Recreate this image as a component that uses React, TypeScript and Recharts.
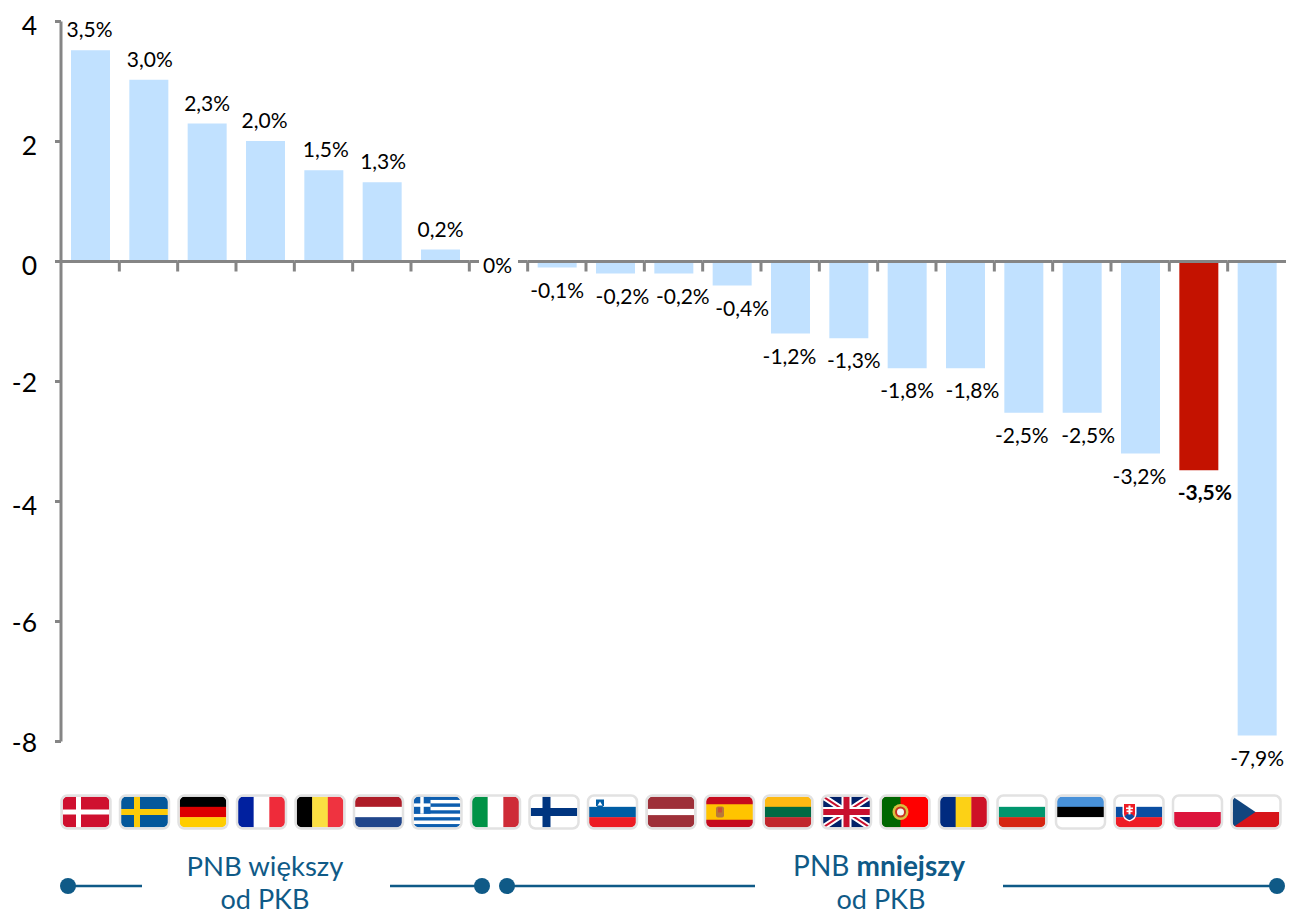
import React from "react";
import { BarChart, Bar, XAxis, YAxis, Cell, LabelList } from "recharts";

const countries = ["DK","SE","DE","FR","BE","NL","GR","IT","FI","SI","LV","ES","LT","GB","PT","RO","BG","EE","SK","PL","CZ"];
const values = [3.52,3.03,2.3,2.01,1.52,1.32,0.2,0,-0.1,-0.2,-0.2,-0.4,-1.2,-1.28,-1.78,-1.78,-2.52,-2.52,-3.2,-3.48,-7.9];
const labels = ["3,5%","3,0%","2,3%","2,0%","1,5%","1,3%","0,2%","0%","-0,1%","-0,2%","-0,2%","-0,4%","-1,2%","-1,3%","-1,8%","-1,8%","-2,5%","-2,5%","-3,2%","-3,5%","-7,9%"];
const yTicks = [4,2,0,-2,-4,-6,-8];
const data = countries.map((c, i) => ({ c, v: values[i], l: labels[i] }));

const FONT = "Lato, 'Open Sans', sans-serif";
const AXIS = "#858585";
const BLUE = "#0f5a87";
const BAR = "#c1e1ff";
const HIGHLIGHT = "#c41200";
const W = 47, H = 31;
const PXU = 60;
const LEFT = 61, RIGHT = 3;
const STEP = (1289 - LEFT - RIGHT) / countries.length;
const LABEL_SHIFT = [-1,1,0,-1,2,1,0,0,0,7,9,10,-1,5,0,7,-2,6,-1,6,0];
const Y_LABEL_SHIFT: Record<number, number> = { [-2]: -3, [-6]: -3, [-8]: -3 };

const h = (cols: string[]) => cols.map((f, i) => <rect key={i} x={0} y={(H * i) / cols.length} width={W} height={H / cols.length + 0.3} fill={f} />);
const v = (cols: string[]) => cols.map((f, i) => <rect key={i} x={(W * i) / cols.length} y={0} width={W / cols.length + 0.3} height={H} fill={f} />);
const nordic = (bg: string, cross: string, t: number) => (
  <>
    <rect width={W} height={H} fill={bg} />
    <rect x={16 - t / 2} width={t} height={H} fill={cross} />
    <rect y={H / 2 - t / 2} width={W} height={t} fill={cross} />
  </>
);

const flagArt: Record<string, React.ReactNode> = {
  DK: nordic("#cf102f", "#ffffff", 5),
  SE: nordic("#04589b", "#fdcb08", 6),
  DE: h(["#000000", "#dd0000", "#ffcd00"]),
  FR: v(["#00209f", "#ffffff", "#ef2b3a"]),
  BE: v(["#000000", "#fbdf42", "#ef3340"]),
  NL: h(["#ae1c28", "#ffffff", "#21468b"]),
  GR: (
    <>
      {[0,1,2,3,4,5,6,7,8].map((i) => <rect key={i} y={(i * H) / 9} width={W} height={H / 9 + 0.2} fill={i % 2 ? "#fff" : "#0d5eaf"} />)}
      <rect width={17} height={(5 * H) / 9} fill="#0d5eaf" />
      <rect x={6.8} width={3.4} height={(5 * H) / 9} fill="#fff" />
      <rect y={6.9} width={17} height={3.4} fill="#fff" />
    </>
  ),
  IT: v(["#009246", "#ffffff", "#ce2b37"]),
  FI: nordic("#ffffff", "#003580", 8),
  SI: (
    <>
      {h(["#ffffff", "#005da4", "#ed1c24"])}
      <path d="M7 3h8v6q-4 5-8 0z" fill="#005da4" />
      <path d="M8.5 9l2.5-4 2.5 4z" fill="#fff" />
    </>
  ),
  LV: (
    <>
      <rect width={W} height={H} fill="#9e3039" />
      <rect y={12.4} width={W} height={6.2} fill="#fff" />
    </>
  ),
  ES: (
    <>
      <rect width={W} height={H} fill="#c60b1e" />
      <rect y={7.75} width={W} height={15.5} fill="#ffc400" />
      <rect x={10} y={10} width={8} height={11} rx={2} fill="#b87a3a" />
      <rect x={12} y={11} width={4} height={5} fill="#c9503a" />
    </>
  ),
  LT: h(["#fdb913", "#006a44", "#c1272d"]),
  GB: (
    <>
      <rect width={W} height={H} fill="#012169" />
      <path d={`M0 0L${W} ${H}M${W} 0L0 ${H}`} stroke="#fff" strokeWidth={6} />
      <path d={`M0 0L${W} ${H}M${W} 0L0 ${H}`} stroke="#c8102e" strokeWidth={2} />
      <rect x={18.5} width={10} height={H} fill="#fff" />
      <rect y={10.5} width={W} height={10} fill="#fff" />
      <rect x={20.5} width={6} height={H} fill="#c8102e" />
      <rect y={12.5} width={W} height={6} fill="#c8102e" />
    </>
  ),
  PT: (
    <>
      <rect width={W} height={H} fill="#ff0000" />
      <rect width={19} height={H} fill="#006600" />
      <circle cx={19} cy={15.5} r={8} fill="#d8c040" />
      <circle cx={19} cy={15.5} r={4.5} fill="#f4f4f4" stroke="#c83020" strokeWidth={2} />
    </>
  ),
  RO: v(["#002b7f", "#fcd116", "#ce1126"]),
  BG: h(["#ffffff", "#00966e", "#d62612"]),
  EE: h(["#4891d9", "#000000", "#ffffff"]),
  SK: (
    <>
      {h(["#ffffff", "#0b4ea2", "#ee1c25"])}
      <path d="M7 6h14v11q0 6-7 8q-7-2-7-8z" fill="#fff" />
      <path d="M8.5 7.5h11v9.5q0 4.5-5.5 6.4q-5.5-1.9-5.5-6.4z" fill="#ee1c25" />
      <path d="M9 20q5-6 10 0q-2 2.5-5 3.4q-3-.9-5-3.4z" fill="#0b4ea2" />
      <rect x={13} y={9} width={2} height={9} fill="#fff" />
      <rect x={10.5} y={11} width={7} height={1.6} fill="#fff" />
      <rect x={11} y={14} width={6} height={1.6} fill="#fff" />
    </>
  ),
  PL: h(["#ffffff", "#dc143c"]),
  CZ: (
    <>
      {h(["#ffffff", "#d7141a"])}
      <path d={`M0 0L23 ${H / 2}L0 ${H}z`} fill="#11457e" />
    </>
  ),
};

function AxisTick(props: any) {
  const { x, y, index, payload } = props;
  const axisY = y - 8;
  const zeroY = axisY - 8 * PXU;
  const code = payload.value as string;
  const isGap = labels[index] === "0%";
  const flagX = 86 + 58.5 * index - W / 2;
  return (
    <g>
      {isGap ? (
        <>
          <line x1={x - STEP / 2} x2={x - 19.5} y1={zeroY} y2={zeroY} stroke={AXIS} strokeWidth={3} />
          <line x1={x + 19.5} x2={x + STEP / 2} y1={zeroY} y2={zeroY} stroke={AXIS} strokeWidth={3} />
          <text x={x - 1} y={zeroY + 11} textAnchor="middle" fontFamily={FONT} fontSize={21} fill="#000">{labels[index]}</text>
        </>
      ) : (
        <line x1={x - STEP / 2} x2={x + STEP / 2} y1={zeroY} y2={zeroY} stroke={AXIS} strokeWidth={3} />
      )}
      {index < countries.length - 1 && (
        <line x1={x + STEP / 2} x2={x + STEP / 2} y1={zeroY} y2={zeroY + 10} stroke={AXIS} strokeWidth={3} />
      )}
      <g transform={`translate(${flagX},${axisY + 55})`}>
        <clipPath id={`fc-${code}`}><rect width={W} height={H} rx={5} /></clipPath>
        <g clipPath={`url(#fc-${code})`}>{flagArt[code]}</g>
        <rect x={-1} y={-1} width={W + 2} height={H + 2} rx={6} fill="none" stroke="#e2e2e2" strokeWidth={2.5} />
      </g>
    </g>
  );
}

function YTick(props: any) {
  const { x, y, payload } = props;
  const shift = Y_LABEL_SHIFT[payload.value] ?? 0;
  return (
    <text x={x} y={y + 13 + shift} textAnchor="end" fontFamily={FONT} fontSize={26.5} fill="#000">{payload.value}</text>
  );
}

function BarLabel(props: any) {
  const { x, y, width, height, value } = props;
  const cx = x + width / 2;
  const i = Math.round((cx - LEFT) / STEP - 0.5);
  const val = values[i];
  const top = Math.min(y, y + height);
  const end = Math.max(y, y + height);
  const ty = val > 0 ? top - 13 : end + 30;
  return (
    <text x={cx + LABEL_SHIFT[i]} y={ty} textAnchor="middle" fontFamily={FONT} fontSize={21} fontWeight={value === "-3,5%" ? 700 : 400} fill="#000">
      {value}
    </text>
  );
}

const Dot = ({ cx }: { cx: number }) => <circle cx={cx} cy={886} r={8} fill={BLUE} />;
const Seg = ({ a, b }: { a: number; b: number }) => <line x1={a} x2={b} y1={886} y2={886} stroke={BLUE} strokeWidth={2.5} />;

export default function App() {
  return (
    <div style={{ position: "absolute", left: 0, top: 0, width: 1289, height: 915, background: "#fff", overflow: "hidden" }}>
      <BarChart width={1289} height={915} data={data} margin={{ top: 21.5, right: RIGHT, bottom: 0, left: 0 }} barSize={39}>
        <YAxis
          domain={[-8, 4]}
          ticks={yTicks}
          width={LEFT}
          interval={0}
          allowDataOverflow
          tick={<YTick />}
          tickLine={{ stroke: AXIS, strokeWidth: 3 }}
          tickSize={6}
          tickMargin={18}
          axisLine={{ stroke: AXIS, strokeWidth: 3 }}
        />
        <XAxis dataKey="c" height={173.5} interval={0} axisLine={false} tickLine={false} tick={<AxisTick />} />
        <Bar dataKey="v" isAnimationActive={false}>
          {data.map((d, i) => <Cell key={d.c} fill={i === 19 ? HIGHLIGHT : BAR} />)}
          <LabelList dataKey="l" content={<BarLabel />} />
        </Bar>
        <g>
          <Seg a={68} b={142} /><Dot cx={68} />
          <Seg a={390} b={482} /><Dot cx={482} />
          <Seg a={507} b={755} /><Dot cx={507} />
          <Seg a={1003} b={1277} /><Dot cx={1277} />
          <text x={265} y={876} textAnchor="middle" fontFamily={FONT} fontSize={27.5} fill={BLUE}>PNB większy</text>
          <text x={265} y={909} textAnchor="middle" fontFamily={FONT} fontSize={27} fill={BLUE}>od PKB</text>
          <text x={879} y={876} textAnchor="middle" fontFamily={FONT} fontSize={28} fill={BLUE}>PNB <tspan fontWeight={700}>mniejszy</tspan></text>
          <text x={881} y={909} textAnchor="middle" fontFamily={FONT} fontSize={27} fill={BLUE}>od PKB</text>
        </g>
      </BarChart>
    </div>
  );
}
